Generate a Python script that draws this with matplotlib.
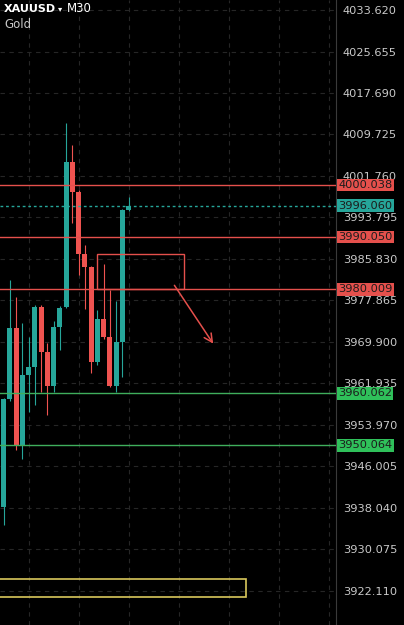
import matplotlib
matplotlib.use("Agg")
import matplotlib.pyplot as plt
from matplotlib.patches import Rectangle

# XAUUSD M30 candles
opens  = [3938.23, 3958.96, 3972.59, 3950.13, 3963.57, 3965.10, 3976.62, 3967.98, 3961.45, 3972.78,
          3976.62, 4004.45, 3998.60, 3986.79, 3984.29, 3966.06, 3974.31, 3970.86, 3961.45, 3969.90, 3995.23]
highs  = [3959.20, 3981.80, 3978.54, 3973.55, 3970.86, 3977.00, 3977.00, 3969.71, 3973.93, 3976.80,
          4011.93, 4007.71, 3999.00, 3988.52, 3984.50, 3976.04, 3984.87, 3979.88, 3977.77, 3995.50, 3997.73]
lows   = [3934.78, 3958.58, 3949.17, 3947.44, 3956.46, 3957.81, 3960.30, 3955.89, 3960.30, 3968.36,
          3976.40, 3992.74, 3982.76, 3976.23, 3963.95, 3965.49, 3970.50, 3961.20, 3960.30, 3963.18, 3995.00]
closes = [3958.96, 3972.59, 3950.13, 3963.57, 3965.10, 3976.62, 3967.98, 3961.45, 3972.78, 3976.43,
          4004.45, 3998.69, 3986.79, 3984.29, 3966.06, 3974.31, 3970.86, 3961.45, 3969.90, 3995.23, 3996.06]

price_ticks = [4033.620, 4025.655, 4017.690, 4009.725, 4001.760, 3993.795, 3985.830, 3977.865,
               3969.900, 3961.935, 3953.970, 3946.005, 3938.040, 3930.075, 3922.110]
time_grid = [4, 12, 20, 28, 36, 44, 52]

red_levels = [4000.038, 3990.050, 3980.009]
green_levels = [3960.062, 3950.064]
last_price = 3996.060

# drawings
red_box = (14.9, 3980.009, 28.9, 3986.79)      # x0, y0, x1, y1
arrow_from = (27.1, 3981.22)
arrow_to = (33.8, 3969.13)
yellow_box = (-1.0, 3920.95, 38.8, 3924.41)

BG = "#000000"
UP = "#26a69a"
DOWN = "#ef5350"
RED_LINE = "#e5504c"
GREEN_LINE = "#3fae5c"
GREEN_TAG = "#2fc05a"
GRID = "#262626"

fig = plt.figure(figsize=(4.04, 6.25), dpi=100, facecolor=BG)
ax = fig.add_axes([0, 0, 336 / 404, 1])
ax.set_facecolor(BG)

# candles
for i in range(len(opens)):
    o, h, l, c = opens[i], highs[i], lows[i], closes[i]
    col = UP if c >= o else DOWN
    ax.vlines(i, l, h, color=col, lw=0.8, zorder=2)
    lo, hi = min(o, c), max(o, c)
    ax.add_patch(Rectangle((i - 0.4, lo), 0.8, max(hi - lo, 0.4), facecolor=col,
                           edgecolor="none", zorder=2.1))

ax.set_xlim(-0.56, 53.2)
ax.set_ylim(3915.58, 4035.54)

# grid + price axis
ax.set_xticks(time_grid)
ax.set_yticks(price_ticks)
ax.set_yticklabels([f"{t:.3f}" for t in price_ticks])
ax.grid(True, color=GRID, ls=(0, (4, 4)), lw=0.8)
ax.set_axisbelow(True)
ax.tick_params(axis="x", length=0, labelbottom=False)
ax.yaxis.tick_right()
ax.tick_params(axis="y", length=0, pad=5, colors="#c9c9c9", labelsize=8.2)
for s in ["top", "left", "bottom"]:
    ax.spines[s].set_visible(False)
ax.spines["right"].set_color("#3a3a3a")
ax.spines["right"].set_linewidth(0.8)

# horizontal levels with price tags
tag_tr = ax.get_yaxis_transform()
for lvl in red_levels:
    ax.axhline(lvl, color=RED_LINE, lw=1, zorder=3)
    ax.text(1.006, lvl, f"{lvl:.3f}", transform=tag_tr, ha="left", va="center",
            fontsize=8.2, color="#1c1c1c", clip_on=False, zorder=5,
            bbox=dict(boxstyle="square,pad=0.12", facecolor=RED_LINE, edgecolor="none"))
for lvl in green_levels:
    ax.axhline(lvl, color=GREEN_LINE, lw=1, zorder=3)
    ax.text(1.006, lvl, f"{lvl:.3f}", transform=tag_tr, ha="left", va="center",
            fontsize=8.2, color="#1c1c1c", clip_on=False, zorder=5,
            bbox=dict(boxstyle="square,pad=0.12", facecolor=GREEN_TAG, edgecolor="none"))

ax.axhline(last_price, color=UP, lw=1, ls=(0, (2, 2)), zorder=3)
ax.text(1.006, last_price, f"{last_price:.3f}", transform=tag_tr, ha="left", va="center",
        fontsize=8.2, color="#1c1c1c", clip_on=False, zorder=5,
        bbox=dict(boxstyle="square,pad=0.12", facecolor=UP, edgecolor="none"))

# drawings on chart
x0, y0, x1, y1 = red_box
ax.add_patch(Rectangle((x0, y0), x1 - x0, y1 - y0, fill=False, edgecolor=RED_LINE, lw=1, zorder=3))
ax.annotate("", xy=arrow_to, xytext=arrow_from,
            arrowprops=dict(arrowstyle="->,head_length=0.6,head_width=0.3", color=RED_LINE, lw=1.1),
            zorder=4)
x0, y0, x1, y1 = yellow_box
ax.add_patch(Rectangle((x0, y0), x1 - x0, y1 - y0, fill=False, edgecolor="#d9c85c", lw=1.2, zorder=3))

# symbol header
fig.text(4 / 404, 1 - 9 / 625, "XAUUSD", color="white", fontsize=8, fontweight="bold", va="center", ha="left")
fig.text(58 / 404, 1 - 9 / 625, "▾", color="white", fontsize=6, va="center", ha="left")
fig.text(67 / 404, 1 - 9 / 625, "M30", color="white", fontsize=8.5, va="center", ha="left")
fig.text(4 / 404, 1 - 24 / 625, "Gold", color="#c8c8c8", fontsize=8.5, va="center", ha="left")

fig.savefig("out.png", dpi=100, facecolor=BG)
